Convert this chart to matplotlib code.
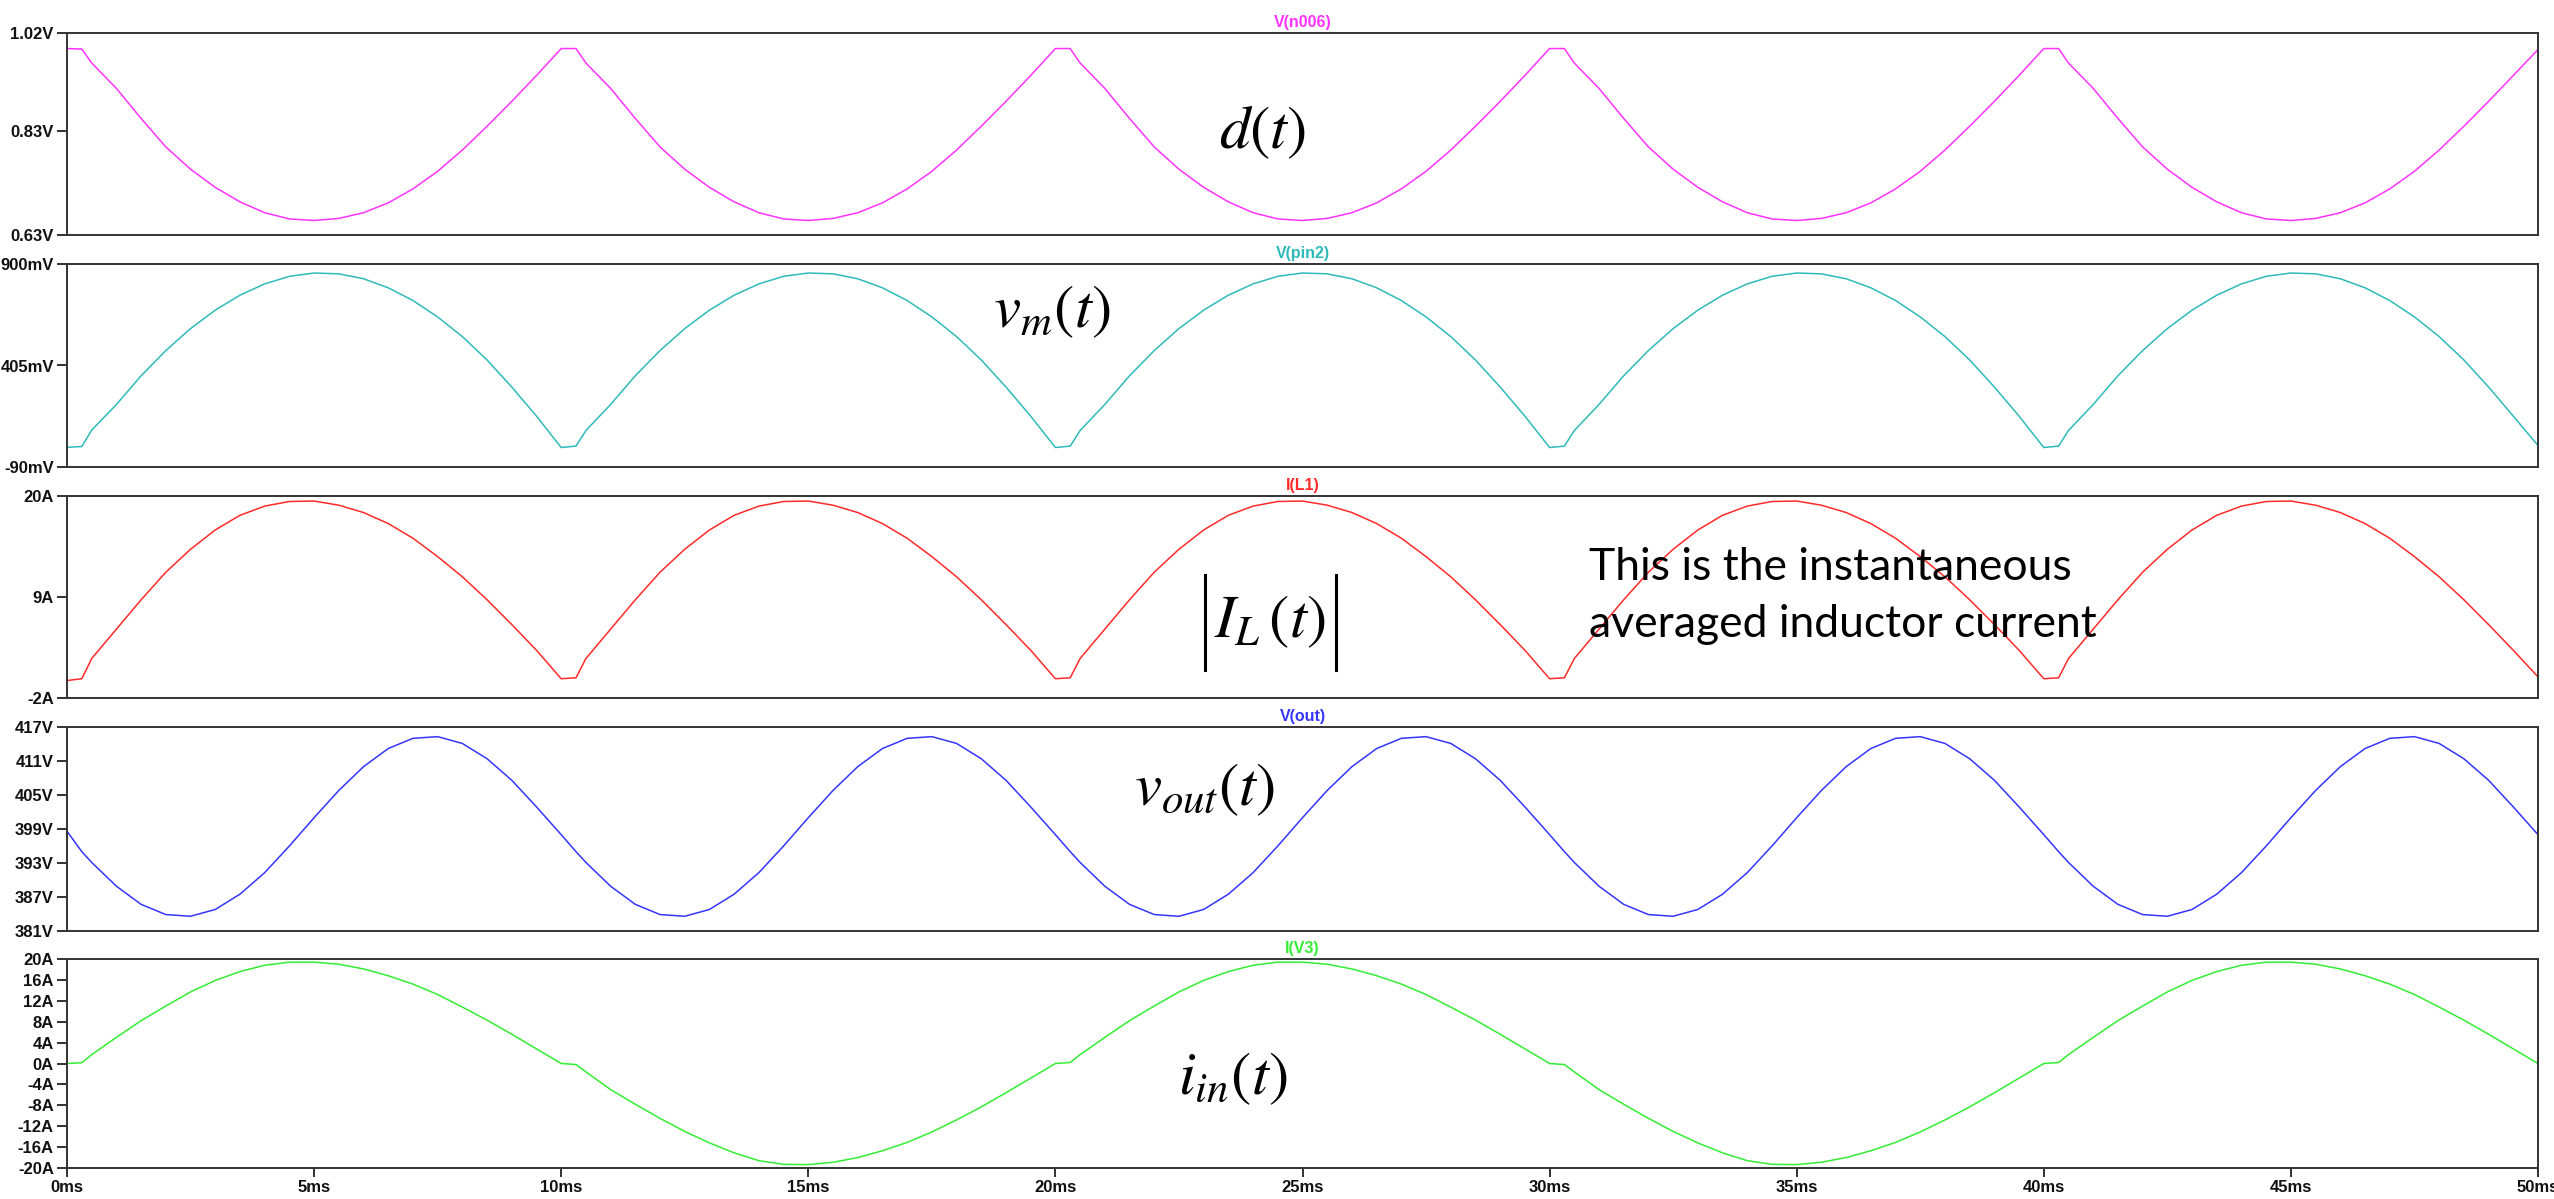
import matplotlib
matplotlib.use("Agg")
import matplotlib.pyplot as plt

plt.rcParams['font.family'] = ['Liberation Sans', 'DejaVu Sans']
plt.rcParams['mathtext.fontset'] = 'stix'

# --- sample times (ms), a bit denser just after each line zero crossing ---
t_ms = [0, 0.3, 0.5, 1, 1.5, 2, 2.5, 3, 3.5, 4, 4.5, 5, 5.5, 6, 6.5, 7, 7.5, 8, 8.5, 9, 9.5,
        10, 10.3, 10.5, 11, 11.5, 12, 12.5, 13, 13.5, 14, 14.5, 15, 15.5, 16, 16.5, 17, 17.5, 18, 18.5, 19, 19.5,
        20, 20.3, 20.5, 21, 21.5, 22, 22.5, 23, 23.5, 24, 24.5, 25, 25.5, 26, 26.5, 27, 27.5, 28, 28.5, 29, 29.5,
        30, 30.3, 30.5, 31, 31.5, 32, 32.5, 33, 33.5, 34, 34.5, 35, 35.5, 36, 36.5, 37, 37.5, 38, 38.5, 39, 39.5,
        40, 40.3, 40.5, 41, 41.5, 42, 42.5, 43, 43.5, 44, 44.5, 45, 45.5, 46, 46.5, 47, 47.5, 48, 48.5, 49, 49.5,
        50]

# duty cycle V(n006), volts
d_t = [0.990, 0.989, 0.962, 0.913, 0.855, 0.800, 0.757, 0.722, 0.694, 0.673, 0.661, 0.658, 0.662, 0.673, 0.692, 0.719, 0.753, 0.794, 0.840, 0.888, 0.938,
       0.990, 0.990, 0.962, 0.913, 0.855, 0.800, 0.757, 0.722, 0.694, 0.673, 0.661, 0.658, 0.662, 0.673, 0.692, 0.719, 0.753, 0.794, 0.840, 0.888, 0.938,
       0.990, 0.990, 0.962, 0.913, 0.855, 0.800, 0.757, 0.722, 0.694, 0.673, 0.661, 0.658, 0.662, 0.673, 0.692, 0.719, 0.753, 0.794, 0.840, 0.888, 0.938,
       0.990, 0.990, 0.962, 0.913, 0.855, 0.800, 0.757, 0.722, 0.694, 0.673, 0.661, 0.658, 0.662, 0.673, 0.692, 0.719, 0.753, 0.794, 0.840, 0.888, 0.938,
       0.990, 0.990, 0.962, 0.913, 0.855, 0.800, 0.757, 0.722, 0.694, 0.673, 0.661, 0.658, 0.662, 0.673, 0.692, 0.719, 0.753, 0.794, 0.840, 0.888, 0.938,
       0.988]

# multiplier output V(pin2), mV
v_m = [6, 10, 90, 215, 355, 478, 585, 675, 748, 803, 840, 856, 852, 828, 784, 722, 642, 546, 432, 300, 158,
       5, 12, 88, 215, 355, 478, 585, 675, 748, 803, 840, 856, 852, 828, 784, 722, 642, 546, 432, 300, 158,
       5, 12, 88, 215, 355, 478, 585, 675, 748, 803, 840, 856, 852, 828, 784, 722, 642, 546, 432, 300, 158,
       5, 12, 88, 215, 355, 478, 585, 675, 748, 803, 840, 856, 852, 828, 784, 722, 642, 546, 432, 300, 158,
       5, 12, 88, 215, 355, 478, 585, 675, 748, 803, 840, 856, 852, 828, 784, 722, 642, 546, 432, 300, 158,
       15]

# inductor current I(L1), A
i_L = [-0.1, 0.1, 2.3, 5.5, 8.7, 11.7, 14.2, 16.3, 17.9, 18.9, 19.4, 19.45, 19.0, 18.2, 17.0, 15.4, 13.4, 11.2, 8.7, 6.0, 3.2,
       0.1, 0.2, 2.3, 5.5, 8.7, 11.7, 14.2, 16.3, 17.9, 18.9, 19.4, 19.45, 19.0, 18.2, 17.0, 15.4, 13.4, 11.2, 8.7, 6.0, 3.2,
       0.1, 0.2, 2.3, 5.5, 8.7, 11.7, 14.2, 16.3, 17.9, 18.9, 19.4, 19.45, 19.0, 18.2, 17.0, 15.4, 13.4, 11.2, 8.7, 6.0, 3.2,
       0.1, 0.2, 2.3, 5.5, 8.7, 11.7, 14.2, 16.3, 17.9, 18.9, 19.4, 19.45, 19.0, 18.2, 17.0, 15.4, 13.4, 11.2, 8.7, 6.0, 3.2,
       0.1, 0.2, 2.3, 5.5, 8.7, 11.7, 14.2, 16.3, 17.9, 18.9, 19.4, 19.45, 19.0, 18.2, 17.0, 15.4, 13.4, 11.2, 8.7, 6.0, 3.2,
       0.3]

# output voltage V(out), V
v_out = [398.6, 395.0, 393.1, 388.9, 385.7, 383.9, 383.6, 384.8, 387.5, 391.3, 396.0, 401.0, 405.8, 410.0, 413.2, 415.0, 415.3, 414.1, 411.4, 407.6, 402.9,
         398.0, 395.0, 393.1, 388.9, 385.7, 383.9, 383.6, 384.8, 387.5, 391.3, 396.0, 401.0, 405.8, 410.0, 413.2, 415.0, 415.3, 414.1, 411.4, 407.6, 402.9,
         398.0, 395.0, 393.1, 388.9, 385.7, 383.9, 383.6, 384.8, 387.5, 391.3, 396.0, 401.0, 405.8, 410.0, 413.2, 415.0, 415.3, 414.1, 411.4, 407.6, 402.9,
         398.0, 395.0, 393.1, 388.9, 385.7, 383.9, 383.6, 384.8, 387.5, 391.3, 396.0, 401.0, 405.8, 410.0, 413.2, 415.0, 415.3, 414.1, 411.4, 407.6, 402.9,
         398.0, 395.0, 393.1, 388.9, 385.7, 383.9, 383.6, 384.8, 387.5, 391.3, 396.0, 401.0, 405.8, 410.0, 413.2, 415.0, 415.3, 414.1, 411.4, 407.6, 402.9,
         398.0]

# line current I(V3), A
i_in = [0.0, 0.15, 1.7, 5.0, 8.2, 11.0, 13.7, 15.9, 17.6, 18.8, 19.4, 19.4, 19.0, 18.1, 16.8, 15.2, 13.2, 10.8, 8.3, 5.6, 2.8,
        0.0, -0.2, -1.6, -5.0, -7.8, -10.5, -13.0, -15.2, -17.1, -18.6, -19.3, -19.35, -18.9, -18.0, -16.7, -15.1, -13.1, -10.8, -8.3, -5.6, -2.8,
        0.0, 0.2, 1.7, 5.0, 8.2, 11.0, 13.7, 15.9, 17.6, 18.8, 19.4, 19.4, 19.0, 18.1, 16.8, 15.2, 13.2, 10.8, 8.3, 5.6, 2.8,
        0.0, -0.2, -1.6, -5.0, -7.8, -10.5, -13.0, -15.2, -17.1, -18.6, -19.3, -19.35, -18.9, -18.0, -16.7, -15.1, -13.1, -10.8, -8.3, -5.6, -2.8,
        0.0, 0.2, 1.7, 5.0, 8.2, 11.0, 13.7, 15.9, 17.6, 18.8, 19.4, 19.4, 19.0, 18.1, 16.8, 15.2, 13.2, 10.8, 8.3, 5.6, 2.8,
        0.0]

# axis ticks and labels
d_ticks = [0.63, 0.83, 1.02]
d_labels = ['0.63V', '0.83V', '1.02V']
vm_ticks = [-90, 405, 900]
vm_labels = ['-90mV', '405mV', '900mV']
iL_ticks = [-2, 9, 20]
iL_labels = ['-2A', '9A', '20A']
vout_ticks = [381, 387, 393, 399, 405, 411, 417]
vout_labels = ['381V', '387V', '393V', '399V', '405V', '411V', '417V']
iin_ticks = [-20, -16, -12, -8, -4, 0, 4, 8, 12, 16, 20]
iin_labels = ['-20A', '-16A', '-12A', '-8A', '-4A', '0A', '4A', '8A', '12A', '16A', '20A']
time_ticks = [0, 5, 10, 15, 20, 25, 30, 35, 40, 45, 50]
time_labels = ['0ms', '5ms', '10ms', '15ms', '20ms', '25ms', '30ms', '35ms', '40ms', '45ms', '50ms']

W, H = 2554, 1199
fig = plt.figure(figsize=(W / 100, H / 100), dpi=100)

# (trace, title, colour, ylim, ticks, labels, top px, bottom px)
panels = [
    (d_t, 'V(n006)', '#ff33ff', (0.63, 1.02), d_ticks, d_labels, 33, 235),
    (v_m, 'V(pin2)', '#2fbaba', (-90, 900), vm_ticks, vm_labels, 264, 467),
    (i_L, 'I(L1)', '#ff2a2a', (-2, 20), iL_ticks, iL_labels, 496, 698),
    (v_out, 'V(out)', '#3535ff', (381, 417), vout_ticks, vout_labels, 727, 931),
    (i_in, 'I(V3)', '#33ee33', (-20, 20), iin_ticks, iin_labels, 959, 1168),
]

axes = []
for vals, name, col, ylim, ticks, labels, top, bot in panels:
    ax = fig.add_axes([67 / W, 1 - bot / H, (2538 - 67) / W, (bot - top) / H])
    ax.plot(t_ms, vals, color=col, lw=1.1)
    ax.set_xlim(0, 50)
    ax.set_ylim(*ylim)
    ax.set_yticks(ticks)
    ax.set_yticklabels(labels, fontsize=12, fontweight='bold', color='#111111')
    ax.tick_params(axis='y', direction='out', length=7, width=1.3, pad=2.5, color='#222222')
    ax.tick_params(axis='x', bottom=False, labelbottom=False)
    for sp in ax.spines.values():
        sp.set_color('#333333')
        sp.set_linewidth(1.4)
    ax.set_title(name, color=col, fontsize=11.5, fontweight='bold', pad=4)
    axes.append(ax)

ax = axes[-1]
ax.set_xticks(time_ticks)
ax.set_xticklabels(time_labels, fontsize=12, fontweight='bold', color='#111111')
ax.tick_params(axis='x', bottom=True, labelbottom=True, direction='out',
               length=6.5, width=1.3, pad=2, color='#222222')

# hand-written labels on each trace
def fx(x):
    return x / W

def fy(y):
    return 1 - y / H

fig.text(fx(1263), fy(132), r'$d(t)$', fontsize=44, ha='center', va='center')
fig.text(fx(1052), fy(312), r'$v_m(t)$', fontsize=44, ha='center', va='center')
fig.text(fx(1205), fy(790), r'$v_{out}(t)$', fontsize=44, ha='center', va='center')
fig.text(fx(1233), fy(1079), r'$i_{in}(t)$', fontsize=44, ha='center', va='center')

# |I_L(t)| with tall absolute-value bars
fig.text(fx(1270), fy(622), r'$I_L\,(t)$', fontsize=44, ha='center', va='center')
for xb in (1205, 1336):
    fig.add_artist(plt.Line2D([fx(xb), fx(xb)], [fy(575), fy(670)],
                              transform=fig.transFigure, color='black', lw=2.2))

note_font = ['Lato', 'DejaVu Sans']
fig.text(fx(1589), fy(580), 'This is the instantaneous', fontsize=32,
         family=note_font, ha='left', va='baseline')
fig.text(fx(1589), fy(637), 'averaged inductor current', fontsize=32,
         family=note_font, ha='left', va='baseline')

fig.savefig('out.png', dpi=100)
